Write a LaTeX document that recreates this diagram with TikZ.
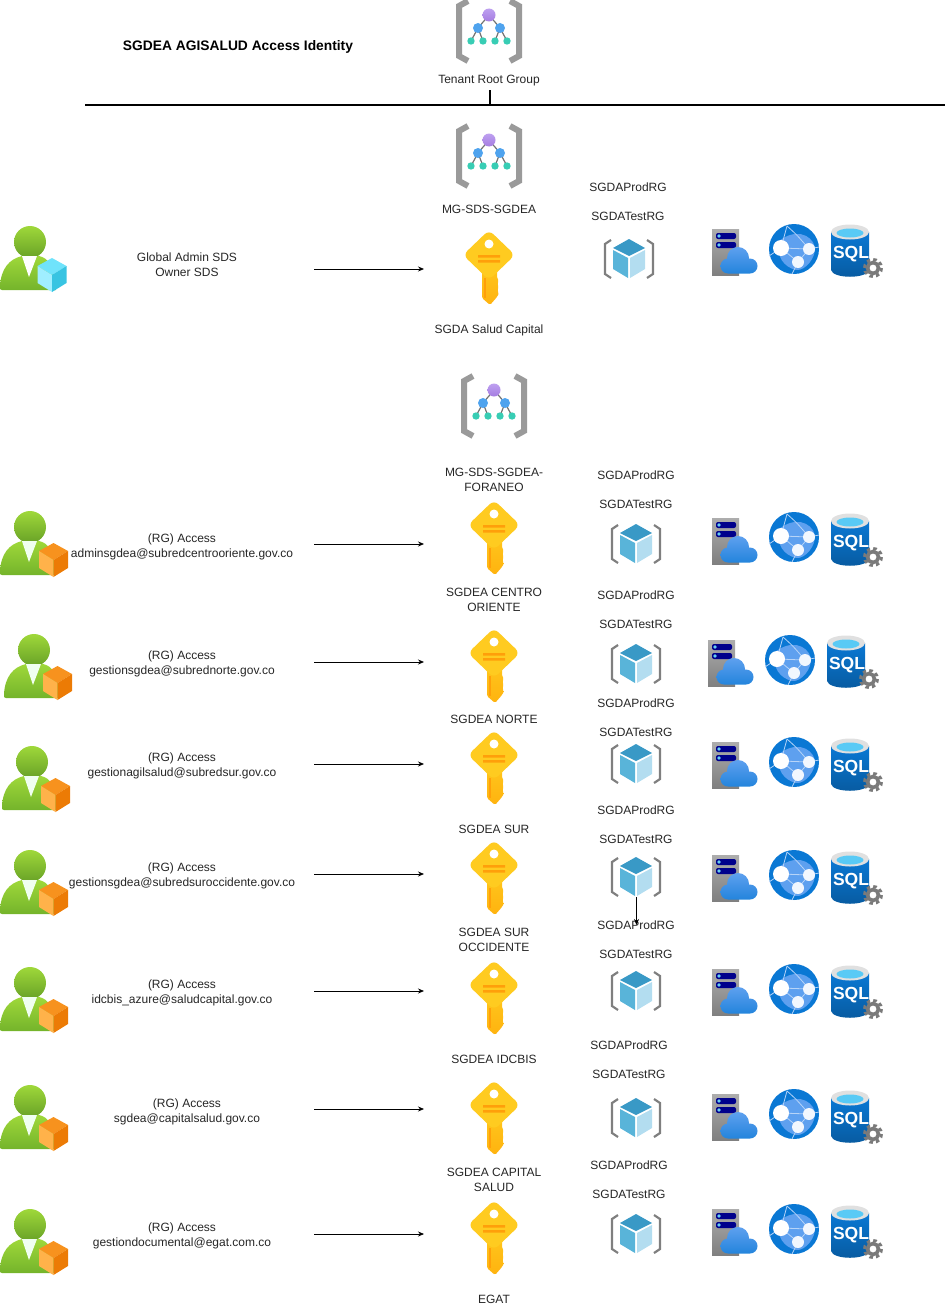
\documentclass[tikz,border=0pt]{standalone}
\usepackage{fontspec}
\setmainfont{Liberation Sans}
\usetikzlibrary{arrows.meta}
\definecolor{greentop}{HTML}{9FD83A}
\definecolor{greenlow}{HTML}{74B42B}
\definecolor{bracketgrey}{HTML}{9A9A9A}
\definecolor{rggrey}{HTML}{7F7F7F}
\definecolor{azuredark}{HTML}{0A78D4}
\definecolor{azurelight}{HTML}{5EA0EF}
\definecolor{gearcolor}{HTML}{7A7A7A}
\definecolor{keytop}{HTML}{FFCB20}
\definecolor{keylow}{HTML}{FFB30F}
\definecolor{keyline}{HTML}{FF9F0A}
\definecolor{orangetop}{HTML}{F7921E}
\definecolor{orangeleft}{HTML}{FFB24A}
\definecolor{orangeright}{HTML}{EC7B05}
\definecolor{cyantop}{HTML}{6FE3FB}
\definecolor{cyanleft}{HTML}{A0EEFF}
\definecolor{cyanright}{HTML}{38C4E2}
\definecolor{rgtop}{HTML}{3999C6}
\definecolor{rgleft}{HTML}{59B4D9}
\definecolor{rgright}{HTML}{B3DDF0}
\definecolor{mgtop}{HTML}{BEA0F0}
\definecolor{mglow}{HTML}{A57DE1}
\definecolor{mgblue}{HTML}{4FA3EE}
\definecolor{mgteal}{HTML}{38CDB4}
\tikzset{
  lbl/.style={font=\fontsize{12}{15}\selectfont, align=center, inner sep=0, text=black!85},
  accessarrow/.style={-{Stealth[length=6pt,width=5pt]}, line width=0.75pt},
  pics/cube/.style n args={3}{code={
    \fill[#1] (0,-17) -- (14.5,-9) -- (0,0) -- (-14.5,-9) -- cycle;
    \fill[#2] (-14.5,-9) -- (0,0) -- (0,17) -- (-14.5,8) -- cycle;
    \fill[#3] (14.5,-9) -- (0,0) -- (0,17) -- (14.5,8) -- cycle;
  }},
  pics/userbody/.style={code={
    \shade[top color=greentop, bottom color=greenlow]
      (-32,31) .. controls (-34,31) and (-34,30) .. (-34,27)
      .. controls (-33,10) and (-25,0) .. (-12,-3) -- (5,-3)
      .. controls (14,-1) and (20,6) .. (22,31) -- cycle;
    \shade[top color=greentop, bottom color=greenlow!90!black] (-4,-17) circle (16);
    \fill[#1] (-12,-3) -- (3,-3) -- (-5,18) -- cycle;
  }},
  pics/userorange/.style={code={
    \pic {userbody=green!6};
    \pic at (19.5,16) {cube={orangetop}{orangeleft}{orangeright}};
  }},
  pics/usercyan/.style={code={
    \pic {userbody=white};
    \pic at (18,16) {cube={cyantop}{cyanleft}{cyanright}};
  }},
  pics/mgroup/.style={code={
    \draw[bracketgrey, line width=6pt, line join=miter]
      (-21,-30) -- (-30,-25) -- (-30,25) -- (-21,30);
    \draw[bracketgrey, line width=6pt, line join=miter]
      (21,-30) -- (30,-25) -- (30,25) -- (21,30);
    \draw[black!55, line width=1.2pt] (0,-16) -- (-11,-3) (0,-16) -- (11,-3)
      (-11,-3) -- (-18,10) (-11,-3) -- (-6,10) (11,-3) -- (6,10) (11,-3) -- (18,10);
    \shade[top color=mgtop, bottom color=mglow] (0,-16) circle (6.5);
    \fill[mgblue] (-11,-3) circle (5) (11,-3) circle (5);
    \fill[mgteal] (-18,10) circle (3.7) (-6,10) circle (3.7)
      (6,10) circle (3.7) (18,10) circle (3.7);
  }},
  pics/goldkey/.style={code={
    \shade[top color=keytop!80!keylow, bottom color=keylow, rounded corners=1.5pt]
      (-7,-6) -- (8,-6) -- (8,8) -- (10,11) -- (8,14) -- (10,17)
      -- (8,20) -- (10,23) -- (8,27) -- (1,35) -- (-7,28) -- cycle;
    \fill[keytop, rounded corners=6pt]
      (0,-40) -- (26,-15) -- (0,10) -- (-26,-15) -- cycle;
    \fill[white] (0,-26) circle (4.5);
    \fill[keyline] (-11,-15) rectangle (11,-12.5) (-11,-10) rectangle (11,-7.5);
    \fill[keyline] (-5,8) rectangle (-3.5,28);
  }},
  pics/rgroup/.style={code={
    \draw[rggrey, line width=2.2pt] (-18,-19) -- (-24,-15) -- (-24,15) -- (-18,19);
    \draw[rggrey, line width=2.2pt] (18,-19) -- (24,-15) -- (24,15) -- (18,19);
    \fill[rgtop] (0,-20) -- (16,-11) -- (0,-3) -- (-16,-11) -- cycle;
    \fill[rgleft] (-16,-9) -- (-1,-1) -- (-1,19) -- (-16,10) -- cycle;
    \fill[rgright] (16,-9) -- (1,-1) -- (1,19) -- (16,10) -- cycle;
  }},
  pics/vmcloud/.style={code={
    \shade[top color=black!32, bottom color=black!50] (-23,-23) rectangle (4,23);
    \fill[blue!55!black, rounded corners=2pt] (-19,-19) rectangle (1,-13) (-19,-10) rectangle (1,-4);
    \fill[cyan!60!white] (-16,-16) circle (1.8) (-16,-7) circle (1.8);
    \shade[top color=azurelight, bottom color=azuredark!70!azurelight]
      (3,6) circle (11) (-7,14) circle (7.5) (15,14) circle (7.5)
      (15,12) rectangle (-7,21.5);
  }},
  pics/webapp/.style={code={
    \fill[azuredark] (0,0) circle (25);
    \fill[azurelight] (-15,-8) .. controls (0,-20) and (17,-16) .. (21,-2)
      .. controls (22,8) and (12,22) .. (2,21) .. controls (-10,18) and (-18,8) .. (-15,-8) -- cycle;
    \draw[white!55!azurelight, line width=0.8pt] (-13,-1) -- (15,0) (-13,-1) -- (4,13) (15,0) -- (4,13)
      (-13,-1) -- (-7,-23) (-7,-23) .. controls (3,-14) .. (15,0) (15,0) -- (25,-2)
      (4,13) -- (-2,25) (-13,-1) -- (-25,7);
    \fill[white] (-13,-1) circle (8);
    \fill[white!92!azurelight] (15,0) circle (6) (4,13) circle (6);
  }},
  pics/sqlserver/.style={code={
    \shade[top color=azuredark, bottom color=azuredark!75!black]
      (-19,-18) -- (19,-18) -- (19,20) .. controls (17,29) and (-17,29) .. (-19,20) -- cycle;
    \fill[black!12] (0,-18) ellipse (19 and 7.5);
    \fill[cyan!65!white] (0,-17) ellipse (13.5 and 4.5);
    \node[font=\fontsize{17.5}{17.5}\selectfont\bfseries, text=white, inner sep=0] (sqltext) at (1,4.5) {SQL};
    \draw[gearcolor, line width=3pt, dash pattern=on 3.5pt off 3.17pt] (23,18) circle (8.5);
    \draw[gearcolor, line width=3.6pt] (23,18) circle (5.5);
  }}
}

\begin{document}
\begin{tikzpicture}[x=1pt,y=-1pt]
  \useasboundingbox (0,0) rectangle (945,1314);

  % header
  \node[lbl, font=\fontsize{13.8}{15}\selectfont\bfseries, text=black] (title) at (238,47) {SGDEA AGISALUD Access Identity};
  \pic at (489,31) {mgroup};
  \node[lbl] (tenant) at (489,81) {Tenant Root Group};
  \coordinate (lineleft) at (85,105);
  \coordinate (lineright) at (945,105);
  \coordinate (tickup) at (489.5,90);
  \coordinate (tickdown) at (489.5,105);
  \draw[line width=1.5pt] (lineleft) -- (lineright);
  \draw[line width=2pt] (tickup) -- (tickdown);

  % global admin
  \pic at (489,156) {mgroup};
  \node[lbl] (mgsgdea) at (489,209) {MG-SDS-SGDEA};
  \pic at (34,259) {usercyan};
  \node[lbl] (globaltext) at (187,264.5) {Global Admin SDS\\Owner SDS};
  \coordinate (globalfrom) at (314,269);
  \coordinate (globalto) at (424,269);
  \draw[accessarrow] (globalfrom) -- (globalto);
  \pic at (489,270) {goldkey};
  \node[lbl] (globalkey) at (489,330) {SGDA Salud Capital};
  \node[lbl] (globalprod) at (628,187) {SGDAProdRG};
  \node[lbl] (globaltest) at (628,216) {SGDATestRG};
  \pic at (629,259) {rgroup};
  \pic at (735,252) {vmcloud};
  \pic at (794,249) {webapp};
  \pic (sqlglobal) at (850,250) {sqlserver};

  % foraneo
  \pic at (494,406) {mgroup};
  \node[lbl] (mgforaneo) at (494,479.5) {MG-SDS-SGDEA-\\FORANEO};

  % centro oriente
  \pic at (34,544) {userorange};
  \node[lbl] (centrotext) at (182,546.5) {(RG) Access\\adminsgdea@subredcentrooriente.gov.co};
  \coordinate (centrofrom) at (314,544);
  \coordinate (centroto) at (424,544);
  \draw[accessarrow] (centrofrom) -- (centroto);
  \pic at (494,540) {goldkey};
  \node[lbl] (centrokey) at (494,599.5) {SGDEA CENTRO\\ORIENTE};
  \node[lbl] (centroprod) at (636,475) {SGDAProdRG};
  \node[lbl] (centrotest) at (636,504) {SGDATestRG};
  \pic at (636,544) {rgroup};
  \pic at (735,541) {vmcloud};
  \pic at (794,537) {webapp};
  \pic (sqlcentro) at (850,539) {sqlserver};

  % norte
  \pic at (38,667) {userorange};
  \node[lbl] (nortetext) at (182,663.5) {(RG) Access\\gestionsgdea@subrednorte.gov.co};
  \coordinate (nortefrom) at (314,662);
  \coordinate (norteto) at (424,662);
  \draw[accessarrow] (nortefrom) -- (norteto);
  \pic at (494,668) {goldkey};
  \node[lbl] (nortekey) at (494,719) {SGDEA NORTE};
  \node[lbl] (norteprod) at (636,595) {SGDAProdRG};
  \node[lbl] (nortetest) at (636,624) {SGDATestRG};
  \pic at (636,664) {rgroup};
  \pic at (731,663) {vmcloud};
  \pic at (790,660) {webapp};
  \pic (sqlnorte) at (846,661) {sqlserver};

  % sur
  \pic at (36,779) {userorange};
  \node[lbl] (surtext) at (182,765.5) {(RG) Access\\gestionagilsalud@subredsur.gov.co};
  \coordinate (surfrom) at (314,764);
  \coordinate (surto) at (424,764);
  \draw[accessarrow] (surfrom) -- (surto);
  \pic at (494,770) {goldkey};
  \node[lbl] (surkey) at (494,829) {SGDEA SUR};
  \node[lbl] (surprod) at (636,703) {SGDAProdRG};
  \node[lbl] (surtest) at (636,732) {SGDATestRG};
  \pic at (636,764) {rgroup};
  \pic at (735,765) {vmcloud};
  \pic at (794,762) {webapp};
  \pic (sqlsur) at (850,764) {sqlserver};

  % sur occidente
  \pic at (34,883) {userorange};
  \node[lbl] (occidentetext) at (182,875.5) {(RG) Access\\gestionsgdea@subredsuroccidente.gov.co};
  \coordinate (occidentefrom) at (314,874);
  \coordinate (occidenteto) at (424,874);
  \draw[accessarrow] (occidentefrom) -- (occidenteto);
  \pic at (494,880) {goldkey};
  \node[lbl] (occidentekey) at (494,939.5) {SGDEA SUR\\OCCIDENTE};
  \node[lbl] (occidenteprod) at (636,810) {SGDAProdRG};
  \node[lbl] (occidentetest) at (636,839) {SGDATestRG};
  \pic at (636,877) {rgroup};
  \pic at (735,878) {vmcloud};
  \pic at (794,875) {webapp};
  \pic (sqloccidente) at (850,877) {sqlserver};

  % idcbis
  \pic at (34,1000) {userorange};
  \node[lbl] (idcbistext) at (182,992.5) {(RG) Access\\idcbis\_azure@saludcapital.gov.co};
  \coordinate (idcbisfrom) at (314,991);
  \coordinate (idcbisto) at (424,991);
  \draw[accessarrow] (idcbisfrom) -- (idcbisto);
  \pic at (494,1000) {goldkey};
  \node[lbl] (idcbiskey) at (494,1059) {SGDEA IDCBIS};
  \node[lbl] (idcbisprod) at (636,925) {SGDAProdRG};
  \node[lbl] (idcbistest) at (636,954) {SGDATestRG};
  \pic at (636,991) {rgroup};
  \pic at (735,992) {vmcloud};
  \pic at (794,989) {webapp};
  \pic (sqlidcbis) at (850,991) {sqlserver};

  % capital salud
  \pic at (34,1118) {userorange};
  \node[lbl] (capitaltext) at (187,1111.5) {(RG) Access\\sgdea@capitalsalud.gov.co};
  \coordinate (capitalfrom) at (314,1109);
  \coordinate (capitalto) at (424,1109);
  \draw[accessarrow] (capitalfrom) -- (capitalto);
  \pic at (494,1120) {goldkey};
  \node[lbl] (capitalkey) at (494,1179.5) {SGDEA CAPITAL\\SALUD};
  \node[lbl] (capitalprod) at (629,1045) {SGDAProdRG};
  \node[lbl] (capitaltest) at (629,1074) {SGDATestRG};
  \pic at (636,1118) {rgroup};
  \pic at (735,1117) {vmcloud};
  \pic at (794,1114) {webapp};
  \pic (sqlcapital) at (850,1116) {sqlserver};

  % egat
  \pic at (34,1242) {userorange};
  \node[lbl] (egattext) at (182,1235.5) {(RG) Access\\gestiondocumental@egat.com.co};
  \coordinate (egatfrom) at (314,1234);
  \coordinate (egatto) at (424,1234);
  \draw[accessarrow] (egatfrom) -- (egatto);
  \pic at (494,1240) {goldkey};
  \node[lbl] (egatkey) at (494,1299) {EGAT};
  \node[lbl] (egatprod) at (629,1165) {SGDAProdRG};
  \node[lbl] (egattest) at (629,1194) {SGDATestRG};
  \pic at (636,1234) {rgroup};
  \pic at (735,1232) {vmcloud};
  \pic at (794,1229) {webapp};
  \pic (sqlegat) at (850,1231) {sqlserver};

  % stray arrow under occidente group
  \coordinate (strayfrom) at (636.5,897);
  \coordinate (strayto) at (636.5,925);
  \draw[accessarrow] (strayfrom) -- (strayto);
\end{tikzpicture}
\end{document}
